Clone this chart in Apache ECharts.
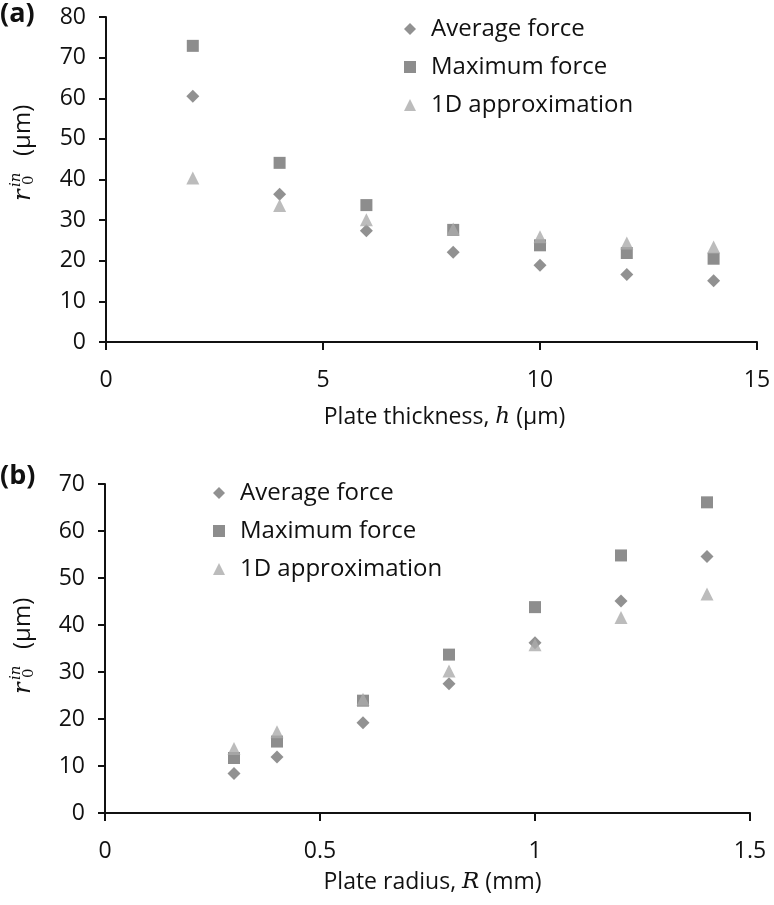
<!DOCTYPE html>
<html>
<head>
<meta charset="utf-8">
<script src="https://cdn.jsdelivr.net/npm/echarts@6/dist/echarts.min.js"></script>
<style>html,body{margin:0;padding:0;background:#fff}#c{width:774px;height:905px}</style>
</head>
<body>
<div id="c"></div>
<script>
// Panel (a): inlet radius vs plate thickness
const thicknessA = [2, 4, 6, 8, 10, 12, 14];
const avgForceA = [60.5, 36.4, 27.4, 22.1, 18.9, 16.6, 15.1];
const maxForceA = [72.9, 44.1, 33.7, 27.6, 23.8, 21.9, 20.5];
const approx1DA = [40.4, 33.6, 30.1, 27.8, 25.9, 24.4, 23.4];
// Panel (b): inlet radius vs plate radius
const radiusB = [0.3, 0.4, 0.6, 0.8, 1.0, 1.2, 1.4];
const avgForceB = [8.4, 11.9, 19.2, 27.5, 36.2, 45.1, 54.6];
const maxForceB = [11.7, 15.2, 23.9, 33.7, 43.8, 54.8, 66.1];
const approx1DB = [13.7, 17.3, 24.2, 30.2, 35.8, 41.6, 46.6];

const seriesNames = ['Average force', 'Maximum force', '1D approximation'];
const xTicksA = [0, 5, 10, 15];
const xTicksB = [0, 0.5, 1, 1.5];

const FONT = 'Open Sans';
const C_AVG = '#767676', C_MAX = '#707070', C_1D = '#ababab';

function pairs(xs, ys) { return xs.map((x, i) => [x, ys[i]]); }

function xAxisCfg(gridIndex, ticks, nameRich, gap, shift) {
  return {
    type: 'value', gridIndex,
    min: ticks[0], max: ticks[ticks.length - 1], interval: ticks[1] - ticks[0],
    splitLine: { show: false },
    axisLine: { show: true, onZero: false, lineStyle: { color: '#111', width: 2 } },
    axisTick: { show: true, inside: false, length: 8, lineStyle: { color: '#111', width: 2 } },
    axisLabel: { color: '#111', fontFamily: FONT, fontSize: 23, margin: 27 },
    name: nameRich, nameLocation: 'middle', nameGap: gap,
    nameTextStyle: {
      color: '#111', fontFamily: FONT, fontSize: 23, padding: [0, 0, 0, shift],
      rich: {
        t: { fontFamily: FONT, fontSize: 23, color: '#111' },
        i: { fontFamily: 'DejaVu Serif', fontStyle: 'italic', fontSize: 23, color: '#111' }
      }
    }
  };
}
function yAxisCfg(gridIndex, max) {
  return {
    type: 'value', gridIndex, min: 0, max, interval: 10,
    splitLine: { show: false },
    axisLine: { show: true, lineStyle: { color: '#111', width: 2 } },
    axisTick: { show: true, inside: false, length: 7, lineStyle: { color: '#111', width: 2 } },
    axisLabel: { color: '#111', fontFamily: FONT, fontSize: 23, margin: 20 }
  };
}
function legendCfg(left, top) {
  return {
    orient: 'vertical', left, top,
    itemWidth: 12, itemHeight: 12, itemGap: 14,
    data: seriesNames,
    formatter: n => '{t|' + n + '}',
    textStyle: {
      color: '#111',
      rich: { t: { fontFamily: FONT, fontSize: 24, color: '#111', lineHeight: 30, padding: [0, 0, 0, 10] } }
    }
  };
}
function yLabel(x, y) {
  return {
    type: 'group', x, y, rotation: Math.PI / 2,
    children: [
      { type: 'text', x: 0, y: 1, style: { text: 'r', font: 'italic 24px "DejaVu Serif"', fill: '#111', verticalAlign: 'middle', align: 'left' } },
      { type: 'text', x: 16, y: 6, style: { text: '0', font: '15px "DejaVu Serif"', fill: '#111', verticalAlign: 'middle', align: 'left' } },
      { type: 'text', x: 14, y: -7, style: { text: 'in', font: 'italic 15px "DejaVu Serif"', fill: '#111', verticalAlign: 'middle', align: 'left' } },
      { type: 'text', x: 45, y: 0, style: { text: '(\u03bcm)', font: '24px "Open Sans"', fill: '#111', verticalAlign: 'middle', align: 'left' } }
    ]
  };
}
function scatter(name, xi, data, symbol, size, color) {
  return { name, type: 'scatter', xAxisIndex: xi, yAxisIndex: xi, data, symbol, symbolSize: size,
           itemStyle: { color }, emphasis: { disabled: true }, z: 3 };
}

const chart = echarts.init(document.getElementById('c'), null, { renderer: 'canvas' });
chart.setOption({
  backgroundColor: '#fff',
  animation: false,
  grid: [
    { left: 106, top: 17, right: 17, bottom: 563, containLabel: false },
    { left: 105, top: 484, right: 24, bottom: 92, containLabel: false }
  ],
  xAxis: [
    xAxisCfg(0, xTicksA, '{t|Plate thickness, }{i|h}{t| (\u03bcm)}', 64, 26),
    xAxisCfg(1, xTicksB, '{t|Plate radius, }{i|R}{t| (mm)}', 58, 10)
  ],
  yAxis: [yAxisCfg(0, 80), yAxisCfg(1, 70)],
  legend: [legendCfg(399, 12), legendCfg(208, 476)],
  graphic: [
    { type: 'text', left: 0, top: 1, style: { text: '(a)', font: 'bold 27px "Open Sans"', fill: '#111' } },
    { type: 'text', left: 0, top: 463, style: { text: '(b)', font: 'bold 27px "Open Sans"', fill: '#111' } },
    yLabel(23, 201),
    yLabel(23, 694)
  ],
  series: [
    scatter(seriesNames[0], 0, pairs(thicknessA, avgForceA), 'diamond', 13, C_AVG),
    scatter(seriesNames[1], 0, pairs(thicknessA, maxForceA), 'rect', 12, C_MAX),
    scatter(seriesNames[2], 0, pairs(thicknessA, approx1DA), 'triangle', 13, C_1D),
    scatter(seriesNames[0], 1, pairs(radiusB, avgForceB), 'diamond', 13, C_AVG),
    scatter(seriesNames[1], 1, pairs(radiusB, maxForceB), 'rect', 12, C_MAX),
    scatter(seriesNames[2], 1, pairs(radiusB, approx1DB), 'triangle', 13, C_1D)
  ]
});
</script>
</body>
</html>
